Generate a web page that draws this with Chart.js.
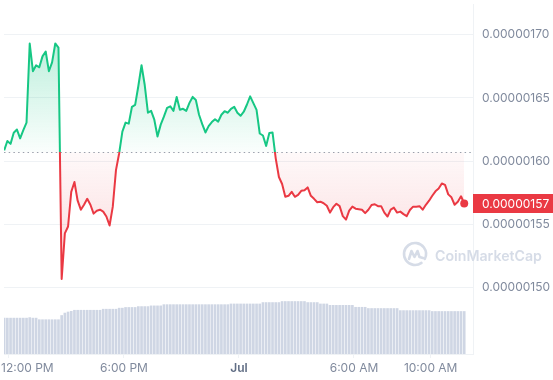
<!DOCTYPE html>
<html>
<head>
<meta charset="utf-8">
<script src="https://cdn.jsdelivr.net/npm/chart.js@4/dist/chart.umd.min.js"></script>
<style>
    html, body { margin: 0; padding: 0; background: #fff; }
    #wrap { width: 553px; height: 380px; position: relative; }
</style>
</head>
<body>
<div id="wrap"><canvas id="priceChart"></canvas></div>
<script>
// prices in units of 0.00000001, one sample every 10 minutes starting 11:45 AM
const startMinute = -15; // minutes relative to 12:00 PM
const stepMinutes = 10;
const prices = [
    160.86, 161.60, 161.37, 162.25, 162.50, 161.80, 162.46, 163.05, 169.30, 167.11,
    167.58, 167.42, 168.28, 168.67, 167.11, 167.81, 169.30, 168.98, 150.70, 154.30,
    154.84, 157.58, 158.36, 156.88, 156.17, 156.56, 157.03, 156.56, 155.86, 156.09,
    156.17, 156.02, 155.63, 154.92, 156.41, 159.30, 160.63, 162.34, 163.05, 162.97,
    164.30, 164.45, 165.94, 167.58, 166.02, 163.83, 163.98, 163.28, 161.95, 162.89,
    163.52, 164.22, 164.34, 163.98, 165.08, 164.06, 164.14, 163.98, 164.61, 165.08,
    164.84, 163.67, 162.93, 162.27, 162.77, 163.09, 163.32, 163.13, 163.67, 163.95,
    163.83, 164.14, 164.30, 163.83, 163.59, 163.91, 164.48, 165.12, 164.59, 164.06,
    162.19, 162.03, 161.21, 162.23, 162.27, 160.23, 158.75, 158.20, 157.19, 157.27,
    157.58, 157.19, 157.34, 157.66, 157.70, 157.93, 157.27, 157.03, 156.76, 156.80,
    156.68, 156.48, 155.94, 156.37, 156.64, 156.45, 155.66, 155.39, 156.09, 156.41,
    156.25, 156.21, 156.17, 155.90, 156.17, 156.54, 156.60, 156.45, 156.45, 155.94,
    155.63, 156.17, 156.33, 155.94, 156.02, 155.82, 155.66, 156.15, 156.41, 156.41,
    156.45, 156.17, 156.56, 156.88, 157.27, 157.62, 157.84, 158.24, 158.13, 157.38,
    157.15, 156.56, 156.80, 157.23, 156.66
];
// 24h volume (relative units)
const volumes = [
    10.25, 10.25, 10.25, 10.25, 10.25, 10.25, 10.25, 10.25, 10.4, 10.25,
    10.25, 9.8, 9.8, 9.8, 9.8, 9.8, 9.8, 9.8, 11.0, 11.7,
    12.0, 12.2, 12.5, 12.5, 12.5, 12.5, 12.5, 12.5, 12.5, 12.5,
    12.5, 12.8, 12.8, 12.8, 12.8, 12.8, 13.1, 13.1, 13.3, 13.3,
    13.3, 13.3, 13.55, 13.55, 13.55, 13.55, 13.75, 13.75, 13.75, 13.75,
    14.1, 14.1, 14.1, 14.1, 14.1, 14.1, 14.1, 14.1, 14.1, 14.1,
    14.1, 14.1, 14.1, 14.1, 14.1, 14.1, 14.1, 14.1, 14.1, 14.1,
    14.1, 14.3, 14.3, 14.3, 14.3, 14.3, 14.3, 14.3, 14.3, 14.3,
    14.3, 14.7, 14.7, 14.7, 14.7, 14.7, 14.7, 15.0, 15.0, 15.0,
    15.0, 15.0, 15.0, 15.0, 15.0, 14.7, 14.7, 14.7, 14.7, 14.3,
    14.3, 14.3, 13.9, 13.9, 13.9, 13.9, 13.9, 13.9, 13.9, 13.9,
    13.35, 13.35, 13.35, 13.35, 13.0, 13.0, 13.0, 13.0, 13.0, 13.0,
    13.0, 13.0, 13.0, 13.0, 12.4, 12.4, 12.4, 12.4, 12.4, 12.4,
    12.4, 12.4, 12.4, 12.4, 12.15, 12.15, 12.15, 12.15, 12.15, 12.15,
    12.15, 12.15, 12.15, 12.15, 12.15
];
const openPrice = 160.70; // dotted reference line
const priceTicks = [150, 155, 160, 165, 170];
const timeTicks = [0, 360, 720, 1080, 1320];
const timeLabels = ['12:00 PM', '6:00 PM', 'Jul', '6:00 AM', '10:00 AM'];

const GREEN = '#16c784';
const RED = '#ea3943';
const AXIS_GREY = '#eff2f5';
const LABEL_GREY = '#808a9d';

const times = prices.map((_, i) => startMinute + i * stepMinutes);
const maxPrice = Math.max(...prices);
const minPrice = Math.min(...prices);

function lineColor(ctx) {
    const chart = ctx.chart;
    const area = chart.chartArea;
    if (!area) return GREEN;
    const by = chart.scales.y.getPixelForValue(openPrice);
    let stop = (by - area.top) / (area.bottom - area.top);
    stop = Math.min(Math.max(stop, 0), 1);
    const g = chart.ctx.createLinearGradient(0, area.top, 0, area.bottom);
    g.addColorStop(0, GREEN);
    g.addColorStop(stop, GREEN);
    g.addColorStop(stop, RED);
    g.addColorStop(1, RED);
    return g;
}

function priceFill(ctx) {
    const chart = ctx.chart;
    const area = chart.chartArea;
    const target = { value: openPrice };
    if (!area) return { target, above: 'rgba(22,199,132,0.1)', below: 'rgba(234,57,67,0.1)' };
    const y = chart.scales.y;
    const by = y.getPixelForValue(openPrice);
    const up = chart.ctx.createLinearGradient(0, y.getPixelForValue(maxPrice), 0, by);
    up.addColorStop(0, 'rgba(22,199,132,0.28)');
    up.addColorStop(1, 'rgba(22,199,132,0.02)');
    const down = chart.ctx.createLinearGradient(0, by, 0, y.getPixelForValue(minPrice));
    down.addColorStop(0, 'rgba(234,57,67,0.03)');
    down.addColorStop(1, 'rgba(234,57,67,0.2)');
    return { target, above: up, below: down };
}

// dotted open-price line under the data
const baseLinePlugin = {
    id: 'baseLine',
    beforeDatasetsDraw(chart) {
        const { ctx, chartArea } = chart;
        const by = Math.round(chart.scales.y.getPixelForValue(openPrice)) + 0.5;
        ctx.save();
        ctx.strokeStyle = '#9aa1ad';
        ctx.lineWidth = 1;
        ctx.setLineDash([1.5, 3.2]);
        ctx.beginPath();
        ctx.moveTo(chartArea.left, by);
        ctx.lineTo(chartArea.right, by);
        ctx.stroke();
        ctx.restore();
    }
};

// x labels, kept inside the canvas, price tag and watermark
const overlayPlugin = {
    id: 'overlay',
    afterDraw(chart) {
        const { ctx, chartArea, width } = chart;
        const xs = chart.scales.x;
        ctx.save();

        // time labels
        ctx.textBaseline = 'middle';
        const ly = chartArea.bottom + 14;
        timeTicks.forEach((t, i) => {
            const bold = timeLabels[i] === 'Jul';
            ctx.font = (bold ? '600 ' : '400 ') + '12px Inter, sans-serif';
            ctx.fillStyle = bold ? '#616e85' : LABEL_GREY;
            const w = ctx.measureText(timeLabels[i]).width;
            let left = xs.getPixelForValue(t) - w / 2;
            left = Math.max(1, Math.min(left, width - w - 1));
            ctx.textAlign = 'left';
            ctx.fillText(timeLabels[i], left, ly);
        });

        // watermark
        const cx = width - 138, cy = 254;
        ctx.strokeStyle = '#d6dce7';
        ctx.lineWidth = 2.6;
        ctx.lineCap = 'round';
        ctx.lineJoin = 'round';
        ctx.beginPath();
        ctx.arc(cx, cy, 11, 0.3 * Math.PI, 2.15 * Math.PI);
        ctx.stroke();
        ctx.beginPath();
        ctx.moveTo(cx - 6, cy + 5);
        ctx.lineTo(cx - 3.5, cy - 3);
        ctx.lineTo(cx - 0.5, cy + 3);
        ctx.lineTo(cx + 2.5, cy - 3);
        ctx.lineTo(cx + 4.5, cy + 3);
        ctx.lineTo(cx + 8, cy + 4);
        ctx.stroke();
        ctx.font = '600 20px Inter, sans-serif';
        const mw = ctx.measureText('CoinMarketCap').width;
        const size = 20 * 107 / mw;
        ctx.font = '600 ' + size.toFixed(2) + 'px Inter, sans-serif';
        ctx.fillStyle = '#d6dce7';
        ctx.textBaseline = 'alphabetic';
        ctx.fillText('CoinMarketCap', cx + 20, 261);

        // current price tag
        const last = prices[prices.length - 1];
        const py = chart.scales.y.getPixelForValue(last);
        ctx.fillStyle = RED;
        ctx.fillRect(chartArea.right, Math.round(py - 9.5), width - chartArea.right, 19);
        ctx.fillStyle = '#ffffff';
        ctx.font = '400 12px Inter, sans-serif';
        ctx.textBaseline = 'middle';
        ctx.fillText((last * 1e-8).toFixed(8), chartArea.right + 9, Math.round(py - 9.5) + 10);
        ctx.restore();
    }
};

document.addEventListener('DOMContentLoaded', () => {
    const ctx = document.getElementById('priceChart').getContext('2d');
    new Chart(ctx, {
        type: 'line',
        data: {
            datasets: [
                {
                    type: 'line',
                    data: prices.map((p, i) => ({ x: times[i], y: p })),
                    borderColor: lineColor,
                    borderWidth: 2,
                    tension: 0,
                    borderJoinStyle: 'round',
                    fill: priceFill,
                    pointRadius: (c) => (c.dataIndex === prices.length - 1 ? 4 : 0),
                    pointBackgroundColor: RED,
                    pointBorderWidth: 0,
                    pointHoverRadius: 0,
                    yAxisID: 'y',
                    order: 0
                },
                {
                    type: 'bar',
                    data: volumes.map((v, i) => ({ x: times[i], y: v })),
                    backgroundColor: '#cfd6e4',
                    barThickness: 2,
                    yAxisID: 'vol',
                    order: 1
                }
            ]
        },
        options: {
            responsive: true,
            maintainAspectRatio: false,
            animation: false,
            events: [],
            layout: { padding: 0 },
            plugins: {
                legend: { display: false },
                tooltip: { enabled: false }
            },
            scales: {
                x: {
                    type: 'linear',
                    offset: false,
                    min: -15.5,
                    max: 1452.5,
                    afterBuildTicks: (s) => { s.ticks = timeTicks.map(v => ({ value: v })); },
                    afterFit: (s) => { s.height = 26; s.paddingLeft = 0; s.paddingRight = 0; },
                    grid: { drawOnChartArea: false, drawTicks: true, tickLength: 4, color: AXIS_GREY, offset: false },
                    border: { display: true, color: AXIS_GREY },
                    ticks: { display: false }
                },
                y: {
                    position: 'right',
                    min: 144.77,
                    max: 172.42,
                    afterBuildTicks: (s) => { s.ticks = priceTicks.map(v => ({ value: v })); },
                    afterFit: (s) => { s.width = 80; s.paddingTop = 0; s.paddingBottom = 0; },
                    grid: { color: AXIS_GREY, drawTicks: false },
                    border: { display: true, color: AXIS_GREY },
                    ticks: {
                        padding: 9,
                        color: LABEL_GREY,
                        font: { family: 'Inter', size: 12 },
                        callback: (v) => (v * 1e-8).toFixed(8)
                    }
                },
                vol: {
                    display: false,
                    min: 0,
                    max: 100
                }
            }
        },
        plugins: [baseLinePlugin, overlayPlugin]
    });
});
</script>
</body>
</html>
